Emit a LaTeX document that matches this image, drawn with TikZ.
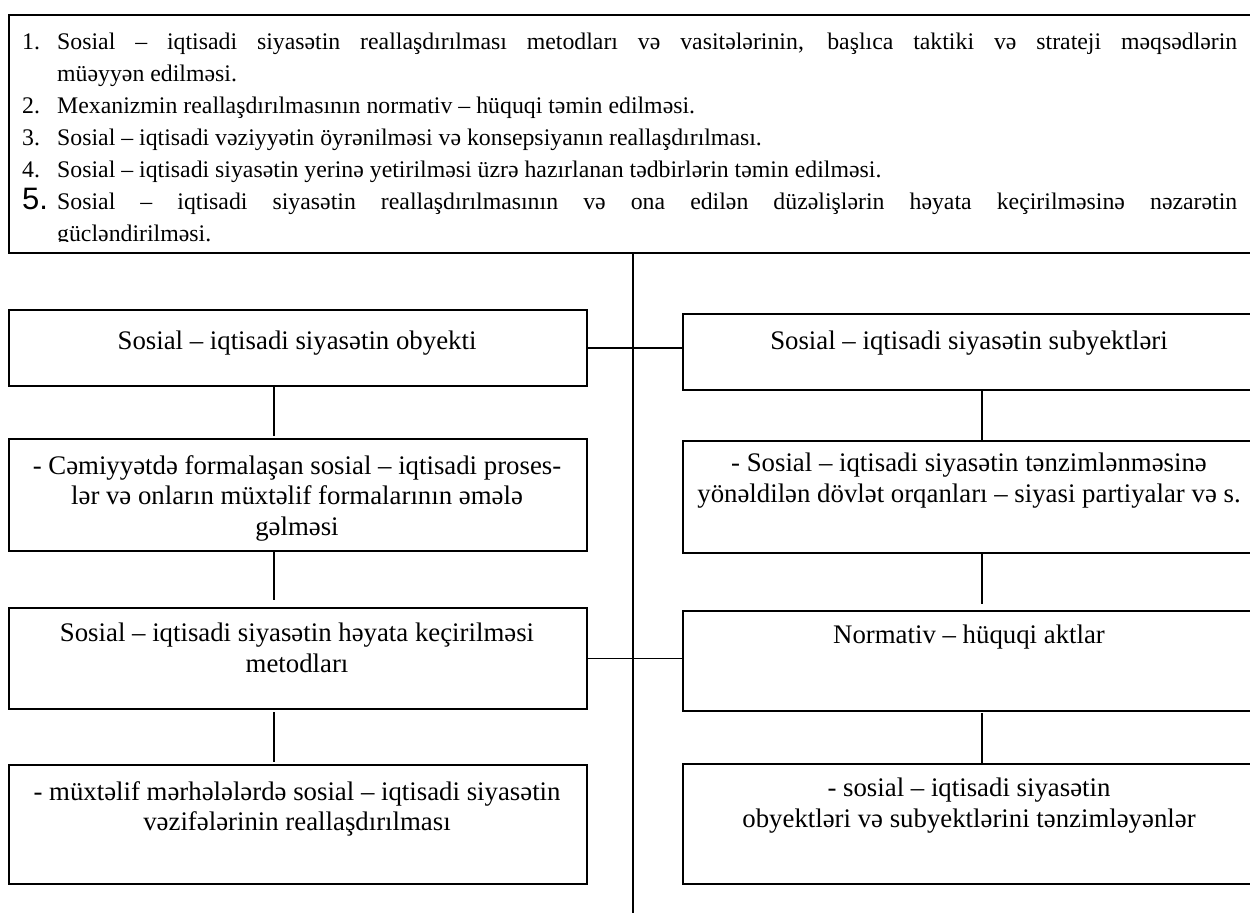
\documentclass[tikz,border=0pt]{standalone}
\usepackage{fontspec}
\setmainfont{Liberation Serif}
\newfontfamily\numfont{Liberation Sans}
\begin{document}
\begin{tikzpicture}[x=1pt,y=-1pt,
  box/.style={draw,line width=1.7pt,inner sep=0pt,anchor=north west},
  conn/.style={line width=1.4pt},
  lbl/.style={font=\fontsize{26.8}{30.5}\selectfont,align=center,anchor=north,inner sep=0pt}]
\clip (0,0) rectangle (1250,919);
% top box
\node[box,minimum width=1260pt,minimum height=238pt] (top) at (8,14) {};
\begin{scope}
\clip (10,16) rectangle (1250,241);
\node[anchor=north west,inner sep=0pt,text width=1215pt,align=justify,font=\fontsize{23.8}{32}\selectfont] (toptext) at (22,32.8) {%
\lineskiplimit=-60pt\relax
\hangindent=35pt\hangafter=1\makebox[35pt][l]{1.}Sosial – iqtisadi siyasətin reallaşdırılması metodları və vasitələrinin, başlıca taktiki və strateji məqsədlərin\linebreak müəyyən edilməsi.\par
\hangindent=35pt\hangafter=1\makebox[35pt][l]{2.}Mexanizmin reallaşdırılmasının normativ – hüquqi təmin edilməsi.\par
\hangindent=35pt\hangafter=1\makebox[35pt][l]{3.}Sosial – iqtisadi vəziyyətin öyrənilməsi və konsepsiyanın reallaşdırılması.\par
\hangindent=35pt\hangafter=1\makebox[35pt][l]{4.}Sosial – iqtisadi siyasətin yerinə yetirilməsi üzrə hazırlanan tədbirlərin təmin edilməsi.\par
\hangindent=35pt\hangafter=1\makebox[35pt][l]{\numfont\fontsize{31}{32}\selectfont 5.}Sosial – iqtisadi siyasətin reallaşdırılmasının və ona edilən düzəlişlərin həyata keçirilməsinə nəzarətin\linebreak gücləndirilməsi.\par}; 
\end{scope}
% left column boxes
\node[box,minimum width=578pt,minimum height=76pt] (L1) at (8,309) {};
\node[box,minimum width=578pt,minimum height=112pt] (L2) at (8,438) {};
\node[box,minimum width=578pt,minimum height=101pt] (L3) at (8,607) {};
\node[box,minimum width=578pt,minimum height=119pt] (L4) at (8,764) {};
% right column boxes
\node[box,minimum width=600pt,minimum height=76pt] (R1) at (682,313) {};
\node[box,minimum width=600pt,minimum height=112pt] (R2) at (682,440) {};
\node[box,minimum width=600pt,minimum height=100pt] (R3) at (682,610) {};
\node[box,minimum width=600pt,minimum height=120pt] (R4) at (682,763) {};
% texts
\node[lbl] (tL1) at (297,331) {Sosial – iqtisadi siyasətin obyekti};
\node[lbl] (tL2) at (297,455) {- Cəmiyyətdə formalaşan sosial – iqtisadi proses-\\lər və onların müxtəlif formalarının əmələ\\gəlməsi};
\node[lbl] (tL3) at (297,623) {Sosial – iqtisadi siyasətin həyata keçirilməsi\\metodları};
\node[lbl] (tL4) at (297,781) {- müxtəlif mərhələlərdə sosial – iqtisadi siyasətin\\vəzifələrinin reallaşdırılması};
\node[lbl] (tR1) at (969,331) {Sosial – iqtisadi siyasətin subyektləri};
\node[lbl] (tR2) at (969,453) {- Sosial – iqtisadi siyasətin tənzimlənməsinə\\yönəldilən dövlət orqanları – siyasi partiyalar və s.};
\node[lbl] (tR3) at (969,625) {Normativ – hüquqi aktlar};
\node[lbl] (tR4) at (969,778) {- sosial – iqtisadi siyasətin\\obyektləri və subyektlərini tənzimləyənlər};
% connectors
\coordinate (cTop) at (633,252);
\coordinate (cBot) at (633,913);
\draw[conn] (cTop) -- (cBot);
\draw[conn] (L1.east) -- (R1.west |- L1.east);
\draw[conn] (L3.east) -- (R3.west |- L3.east);
\draw[conn] (274,385) -- (274,436);
\draw[conn] (274,550) -- (274,600);
\draw[conn] (274,712) -- (274,762);
\draw[conn] (982,389) -- (982,440);
\draw[conn] (982,553) -- (982,604);
\draw[conn] (982,713) -- (982,763);
\end{tikzpicture}
\end{document}
